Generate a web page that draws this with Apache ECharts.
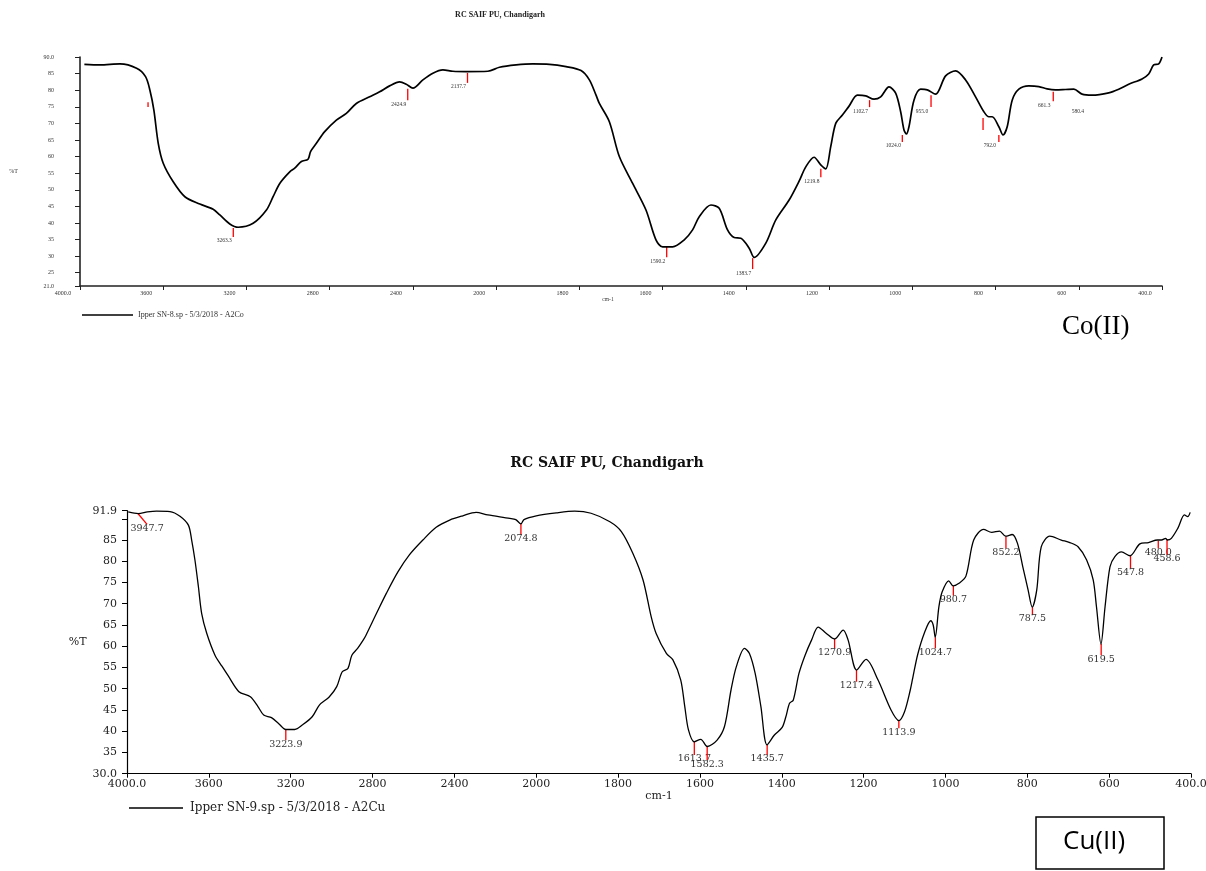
<!DOCTYPE html>
<html>
<head>
<meta charset="utf-8">
<title>IR spectra - Co(II) / Cu(II)</title>
<script src="https://cdn.jsdelivr.net/npm/echarts@6.0.0/dist/echarts.min.js"></script>
<style>
  html, body { margin: 0; padding: 0; background: #fff; }
  #chart { width: 1206px; height: 871px; }
</style>
</head>
<body>
<div id="chart"></div>
<script>
// ---- Co(II) spectrum (wavenumber cm-1, %T) ----
const coWn = [3979, 3904, 3808, 3728, 3685, 3664, 3645, 3624, 3600, 3552, 3496, 3424, 3360, 3328, 3280, 3240,
  3168, 3104, 3072, 3040, 2992, 2968, 2936, 2904, 2892, 2864, 2824, 2768, 2720, 2672, 2608, 2560, 2512,
  2464, 2432, 2400, 2352, 2304, 2256, 2208, 2144, 2040, 1992, 1952, 1912, 1872, 1832, 1796, 1776, 1760,
  1752, 1728, 1704, 1672, 1640, 1616, 1600, 1576, 1548, 1528, 1512, 1484, 1464, 1444, 1428, 1412, 1392,
  1380, 1352, 1328, 1296, 1272, 1256, 1236, 1220, 1208, 1196, 1184, 1168, 1152, 1132, 1112, 1092, 1076,
  1056, 1040, 1028, 1020, 1014, 1008, 996, 980, 964, 944, 920, 896, 872, 848, 828, 816, 808, 792, 782,
  772, 760, 744, 720, 696, 676, 656, 632, 612, 592, 568, 528, 504, 480, 448, 432, 420, 408, 400];
const coT = [87.8, 87.6, 87.9, 86.6, 84.1, 80.0, 74.0, 64.0, 58.0, 52.4, 47.9, 45.7, 44.1, 42.4, 39.7, 38.7,
  39.9, 43.9, 47.9, 51.9, 55.4, 56.5, 58.5, 59.2, 61.5, 64.0, 67.5, 71.0, 73.0, 76.0, 78.0, 79.5, 81.3,
  82.5, 81.8, 80.6, 83.1, 85.1, 86.1, 85.7, 85.6, 85.7, 86.9, 87.6, 87.9, 87.8, 87.1, 85.9, 83.1, 78.5,
  76.0, 70.5, 60.0, 51.9, 43.9, 34.9, 32.8, 32.8, 34.9, 37.9, 41.9, 45.4, 44.4, 37.9, 35.6, 35.4, 32.4,
  29.6, 33.9, 40.9, 46.9, 52.6, 56.9, 59.8, 57.5, 56.3, 63.0, 70.0, 72.5, 75.2, 78.5, 78.3, 77.3, 78.0,
  81.0, 79.1, 73.5, 68.0, 66.8, 69.0, 77.0, 80.3, 80.1, 78.8, 84.3, 85.8, 83.1, 78.0, 73.5, 72.0, 72.0, 69.0, 66.5,
  69.0, 77.0, 80.3, 81.3, 81.1, 80.4, 80.1, 80.2, 80.3, 78.8, 78.5, 79.2, 80.3, 81.8, 83.4, 84.9, 87.6, 87.9, 90.0];

// ---- Cu(II) spectrum ----
const cuWn = [3994, 3945, 3900, 3856, 3790, 3741, 3700, 3684, 3668, 3651, 3635, 3610, 3570, 3536, 3505,
  3453, 3397, 3360, 3332, 3294, 3257, 3224, 3180, 3142, 3095, 3059, 3013, 2975, 2948, 2920, 2901, 2873,
  2845, 2832, 2781, 2732, 2676, 2620, 2554, 2489, 2423, 2359, 2294, 2237, 2129, 2100, 2075, 2060, 2000,
  1951, 1906, 1866, 1820, 1792, 1764, 1739, 1719, 1707, 1682, 1666, 1647, 1637, 1628, 1614, 1598, 1582,
  1558, 1540, 1524, 1511, 1491, 1479, 1465, 1451, 1436, 1418, 1399, 1390, 1381, 1372, 1358, 1343, 1327,
  1311, 1291, 1271, 1250, 1238, 1217, 1194, 1165, 1133, 1114, 1100, 1086, 1080, 1068, 1052, 1036, 1030,
  1025, 1016, 1008, 992, 981, 967, 950, 931, 907, 887, 868, 853, 837, 824, 811, 798, 788, 777, 766, 745,
  717, 696, 676, 655, 639, 631, 620, 610, 598, 586, 570, 549, 525, 504, 482, 472, 462, 458, 448, 432,
  416, 408, 402];
const cuT = [91.6, 91.2, 91.6, 91.8, 91.7, 90.6, 88.5, 85.0, 80.3, 74.0, 67.7, 63.0, 57.9, 55.3, 53.0,
  49.3, 48.1, 45.8, 43.8, 43.2, 41.7, 40.4, 40.4, 41.5, 43.4, 46.2, 48.0, 50.5, 54.0, 54.8, 57.9, 59.5,
  61.5, 62.6, 67.7, 72.5, 77.5, 81.5, 85.0, 88.0, 89.7, 90.7, 91.5, 90.9, 90.1, 89.8, 88.8, 89.8, 90.7,
  91.4, 91.8, 91.3, 89.3, 87.0, 81.9, 75.6, 66.9, 63.0, 58.3, 56.8, 52.1, 45.8, 40.3, 37.5, 38.1, 36.4,
  37.9, 41.1, 49.7, 55.2, 59.5, 58.3, 53.6, 45.8, 36.8, 39.1, 40.9, 43.4, 46.6, 47.3, 53.6, 57.9, 61.5,
  64.5, 63.0, 61.7, 63.8, 61.5, 54.4, 56.9, 52.1, 45.0, 42.5, 44.6, 49.7, 52.5, 58.0, 63.0, 66.0, 65.0,
  62.1, 69.3, 72.8, 75.4, 74.2, 74.8, 76.5, 85.0, 87.5, 86.8, 87.1, 85.9, 86.3, 84.2, 78.7, 73.2, 69.2, 73.2, 83.4, 85.9,
  85.0, 84.4, 83.4, 80.3, 75.6, 69.3, 60.5, 69.3, 78.7, 81.1, 82.2, 81.3, 84.1, 84.4, 85.0, 85.0, 85.4, 85.0, 85.4, 87.8,
  90.9, 90.5, 91.5];

// ---- peak picks: label, %T at tip, %T at foot ----
const coPeakWn = [3673, 3263.3, 2424.9, 2137.7, 1590.2, 1383.7, 1219.8, 1102.7, 1024.0, 955.0, 830, 792.0, 661.3, 580.4];
const coPeakText = ['', '3263.3', '2424.9', '2137.7', '1590.2', '1383.7', '1219.8', '1102.7', '1024.0', '955.0', '', '792.0', '661.3', '580.4'];
const coPeakTip = [76.4, 38.5, 80.4, 85.2, 32.8, 29.4, 56.3, 77.0, 66.5, 78.5, 71.6, 66.5, 79.5, 74.9];
const coPeakFoot = [74.9, 35.8, 77.0, 82.2, 29.7, 26.1, 53.8, 74.9, 64.4, 74.9, 68.0, 64.4, 76.7, 74.9];

const cuPeakWn = [3947.7, 3223.9, 2074.8, 1613.7, 1582.3, 1435.7, 1270.9, 1217.4, 1113.9, 1024.7, 980.7, 852.2, 787.5, 619.5, 547.8, 480.0, 458.6];
const cuPeakFootWn = [3902, 3223.9, 2074.8, 1613.7, 1582.3, 1435.7, 1270.9, 1217.4, 1113.9, 1024.7, 980.7, 852.2, 787.5, 619.5, 547.8, 480.0, 458.6];
const cuPeakText = ['3947.7', '3223.9', '2074.8', '1613.7', '1582.3', '1435.7', '1270.9', '1217.4', '1113.9', '1024.7', '980.7', '852.2', '787.5', '619.5', '547.8', '480.0', '458.6'];
const cuPeakTip = [91.3, 40.45, 88.8, 37.5, 36.4, 36.75, 61.7, 54.4, 42.5, 62.1, 74.2, 85.9, 69.2, 60.5, 81.3, 84.8, 85.2];
const cuPeakFoot = [88.7, 37.9, 86.2, 34.4, 33.2, 34.4, 59.5, 51.65, 40.7, 59.5, 71.9, 83.0, 67.35, 57.9, 78.3, 83.0, 81.5];

// axis tick values
const coYTicks = [21, 25, 30, 35, 40, 45, 50, 55, 60, 65, 70, 75, 80, 85, 90];
const cuYTicks = [30, 35, 40, 45, 50, 55, 60, 65, 70, 75, 80, 85, 90, 91.9];
const cuYLabels = [30, 35, 40, 45, 50, 55, 60, 65, 70, 75, 80, 85, 91.9];

const coName = 'Ipper SN-8.sp - 5/3/2018 - A2Co';
const cuName = 'Ipper SN-9.sp - 5/3/2018 - A2Cu';

// the spectrometer plot changes scale at 2000 cm-1 (400 per division above, 200 below)
function toU(w) { return w >= 2000 ? (4000 - w) / 400 : 5 + (2000 - w) / 200; }
function fromU(u) { return u <= 5 ? 4000 - u * 400 : 2000 - (u - 5) * 200; }
function xLabel(v) {
  const w = Math.round(fromU(v));
  return (w === 4000 || w === 400) ? w.toFixed(1) : String(w);
}

const serif = '"Liberation Serif", "Times New Roman", serif';
const wide = '"DejaVu Serif", serif';

function peakSeries(idx, wn, footWn, tip, foot, text, st) {
  const data = wn.map((w, i) => [toU(w), tip[i], foot[i], toU(footWn[i]), text[i]]);
  return {
    type: 'custom',
    xAxisIndex: idx,
    yAxisIndex: idx,
    silent: true,
    z: 3,
    data,
    renderItem: (params, api) => {
      const d = data[params.dataIndex];
      const p1 = api.coord([d[0], d[1]]);
      const p2 = api.coord([d[3], d[2]]);
      const kids = [];
      if (d[1] !== d[2]) {
        kids.push({ type: 'line', shape: { x1: p1[0], y1: p1[1], x2: p2[0], y2: p2[1] },
          style: { stroke: '#ff0000', lineWidth: st.lw } });
      }
      if (d[4]) {
        kids.push({ type: 'text', x: p2[0] + st.dx, y: p2[1] + st.dy,
          style: { text: d[4], fill: '#333', fontSize: st.size, fontFamily: st.font, align: 'center', verticalAlign: 'top' } });
      }
      return { type: 'group', children: kids };
    }
  };
}

const chart = echarts.init(document.getElementById('chart'));
chart.setOption({
  animation: false,
  backgroundColor: '#fff',
  title: [
    { text: 'RC SAIF PU, Chandigarh', left: 500, top: 11, textAlign: 'center', padding: 0,
      textStyle: { fontFamily: serif, fontSize: 8, fontWeight: 'bold', color: '#222' } },
    { text: 'RC SAIF PU, Chandigarh', left: 607, top: 456, textAlign: 'center', padding: 0,
      textStyle: { fontFamily: wide, fontSize: 14, fontWeight: 'bold', color: '#111' } }
  ],
  legend: [
    { data: [{ name: coName, icon: 'rect' }], left: 82, top: 311, padding: 0, itemWidth: 51, itemHeight: 1.5,
      selectedMode: false, textStyle: { fontFamily: serif, fontSize: 8, color: '#333' } },
    { data: [{ name: cuName, icon: 'rect' }], left: 129, top: 802, padding: 0, itemWidth: 54, itemHeight: 1.3,
      selectedMode: false, textStyle: { fontFamily: wide, fontSize: 12, color: '#222', padding: [0, 0, 0, 2] } }
  ],
  grid: [
    { left: 80, top: 57, width: 1082, height: 229, outerBoundsMode: 'none' },
    { left: 127, top: 510.7, width: 1064, height: 263, outerBoundsMode: 'none' }
  ],
  xAxis: [
    { gridIndex: 0, type: 'value', min: 0, max: 13, interval: 1,
      axisLine: { lineStyle: { color: '#222', width: 1.6 } },
      axisTick: { length: 4, lineStyle: { color: '#222' } },
      axisLabel: { formatter: xLabel, fontFamily: serif, fontSize: 6, color: '#333', margin: 4, padding: [0, 34, 0, 0] },
      splitLine: { show: false },
      name: 'cm-1', nameLocation: 'middle', nameGap: 11,
      nameTextStyle: { fontFamily: serif, fontSize: 5.5, color: '#333', padding: [0, 26, 0, 0] } },
    { gridIndex: 1, type: 'value', min: 0, max: 13, interval: 1,
      axisLine: { lineStyle: { color: '#000', width: 1.2 } },
      axisTick: { length: 4, lineStyle: { color: '#000' } },
      axisLabel: { formatter: xLabel, fontFamily: wide, fontSize: 11, color: '#222', margin: 5 },
      splitLine: { show: false },
      name: 'cm-1', nameLocation: 'middle', nameGap: 15,
      nameTextStyle: { fontFamily: wide, fontSize: 11, color: '#222' } }
  ],
  yAxis: [
    { gridIndex: 0, type: 'value', min: 21, max: 90,
      axisLine: { show: true, lineStyle: { color: '#222', width: 1.6 } },
      axisTick: { show: true, length: 5, customValues: coYTicks, lineStyle: { color: '#222' } },
      axisLabel: { customValues: coYTicks, fontFamily: serif, fontSize: 6, color: '#333', margin: 26,
        formatter: v => (v === 21 || v === 90) ? v.toFixed(1) : String(v) },
      splitLine: { show: false },
      name: '%T', nameLocation: 'middle', nameRotate: 0, nameGap: 62,
      nameTextStyle: { fontFamily: serif, fontSize: 6, color: '#333' } },
    { gridIndex: 1, type: 'value', min: 30, max: 91.9,
      axisLine: { show: true, lineStyle: { color: '#000', width: 1.2 } },
      axisTick: { show: true, length: 5, customValues: cuYTicks, lineStyle: { color: '#000' } },
      axisLabel: { customValues: cuYLabels, fontFamily: wide, fontSize: 11, color: '#222', margin: 10,
        formatter: v => (v === 30 || v === 91.9) ? v.toFixed(1) : String(v) },
      splitLine: { show: false },
      name: '%T', nameLocation: 'middle', nameRotate: 0, nameGap: 37,
      nameTextStyle: { fontFamily: wide, fontSize: 11, color: '#222' } }
  ],
  series: [
    { name: coName, type: 'line', xAxisIndex: 0, yAxisIndex: 0, symbol: 'none', smooth: 0.3,
      lineStyle: { color: '#000', width: 1.7 }, itemStyle: { color: '#000' },
      data: coWn.map((w, i) => [toU(w), coT[i]]) },
    { name: cuName, type: 'line', xAxisIndex: 1, yAxisIndex: 1, symbol: 'none', smooth: 0.3,
      lineStyle: { color: '#000', width: 1.3 }, itemStyle: { color: '#000' },
      data: cuWn.map((w, i) => [toU(w), cuT[i]]) },
    peakSeries(0, coPeakWn, coPeakWn, coPeakTip, coPeakFoot, coPeakText,
      { lw: 1.3, dx: -9, dy: 1, size: 5.5, font: serif }),
    peakSeries(1, cuPeakWn, cuPeakFootWn, cuPeakTip, cuPeakFoot, cuPeakText,
      { lw: 1.3, dx: 0, dy: -1, size: 9.5, font: wide })
  ],
  graphic: [
    { type: 'text', left: 1062, top: 313,
      style: { text: 'Co(II)', fontFamily: serif, fontSize: 27, fill: '#000' } },
    { type: 'rect', shape: { x: 1036, y: 817, width: 128, height: 52 },
      style: { fill: 'none', stroke: '#000', lineWidth: 1.5 } },
    { type: 'text', left: 1063, top: 829,
      style: { text: 'Cu(II)', fontFamily: '"Open Sans", sans-serif', fontSize: 26, fill: '#000' } }
  ]
});
</script>
</body>
</html>
